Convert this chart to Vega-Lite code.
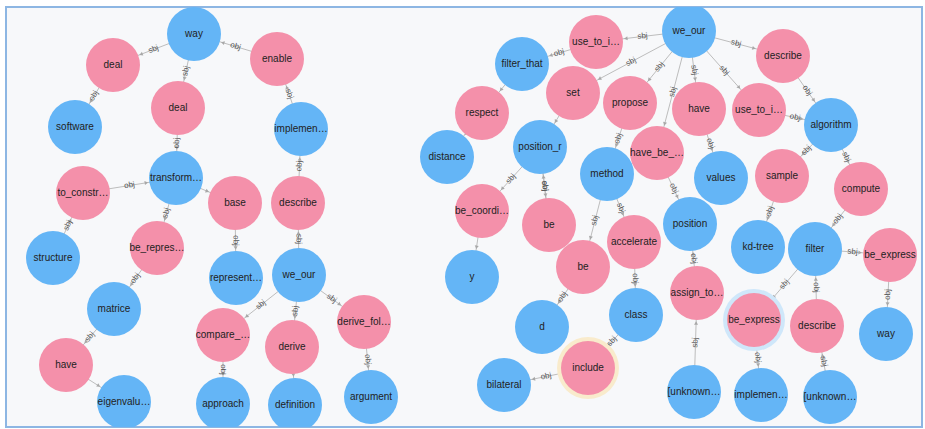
{
  "$schema": "https://vega.github.io/schema/vega-lite/v6.json",
  "width": 925,
  "height": 429,
  "autosize": {"type": "fit", "contains": "padding"},
  "padding": {"left": 6, "top": 7, "right": 3, "bottom": 2},
  "background": "white",
  "config": {"view": {"stroke": "#8db6e3", "strokeWidth": 2, "fill": "#f7f8fa"}},
  "datasets": {
    "nodes": [
      {"id": "L1", "label": "way", "type": "noun", "x": 194, "y": 34, "hl": "none"},
      {"id": "L2", "label": "deal", "type": "verb", "x": 113, "y": 65, "hl": "none"},
      {"id": "L3", "label": "enable", "type": "verb", "x": 277, "y": 59, "hl": "none"},
      {"id": "L4", "label": "software", "type": "noun", "x": 75, "y": 127, "hl": "none"},
      {"id": "L5", "label": "deal", "type": "verb", "x": 178, "y": 108, "hl": "none"},
      {"id": "L6", "label": "implemen…", "type": "noun", "x": 301, "y": 129, "hl": "none"},
      {"id": "L7", "label": "to_constr…", "type": "verb", "x": 83, "y": 193, "hl": "none"},
      {"id": "L8", "label": "transform…", "type": "noun", "x": 176, "y": 178, "hl": "none"},
      {"id": "L9", "label": "base", "type": "verb", "x": 235, "y": 203, "hl": "none"},
      {"id": "L10", "label": "describe", "type": "verb", "x": 298, "y": 203, "hl": "none"},
      {"id": "L11", "label": "structure", "type": "noun", "x": 53, "y": 258, "hl": "none"},
      {"id": "L12", "label": "be_repres…", "type": "verb", "x": 157, "y": 248, "hl": "none"},
      {"id": "L13", "label": "represent…", "type": "noun", "x": 236, "y": 278, "hl": "none"},
      {"id": "L14", "label": "we_our", "type": "noun", "x": 299, "y": 275, "hl": "none"},
      {"id": "L15", "label": "matrice", "type": "noun", "x": 114, "y": 309, "hl": "none"},
      {"id": "L16", "label": "compare_…", "type": "verb", "x": 223, "y": 335, "hl": "none"},
      {"id": "L17", "label": "derive", "type": "verb", "x": 292, "y": 347, "hl": "none"},
      {"id": "L18", "label": "derive_fol…", "type": "verb", "x": 364, "y": 322, "hl": "none"},
      {"id": "L19", "label": "have", "type": "verb", "x": 66, "y": 365, "hl": "none"},
      {"id": "L20", "label": "eigenvalu…", "type": "noun", "x": 124, "y": 402, "hl": "none"},
      {"id": "L21", "label": "approach", "type": "noun", "x": 223, "y": 404, "hl": "none"},
      {"id": "L22", "label": "definition", "type": "noun", "x": 295, "y": 405, "hl": "none"},
      {"id": "L23", "label": "argument", "type": "noun", "x": 371, "y": 397, "hl": "none"},
      {"id": "R1", "label": "we_our", "type": "noun", "x": 689, "y": 31, "hl": "none"},
      {"id": "R2", "label": "use_to_i…", "type": "verb", "x": 596, "y": 42, "hl": "none"},
      {"id": "R3", "label": "filter_that", "type": "noun", "x": 522, "y": 64, "hl": "none"},
      {"id": "R4", "label": "set", "type": "verb", "x": 573, "y": 93, "hl": "none"},
      {"id": "R5", "label": "propose", "type": "verb", "x": 630, "y": 103, "hl": "none"},
      {"id": "R6", "label": "respect", "type": "verb", "x": 482, "y": 113, "hl": "none"},
      {"id": "R7", "label": "distance", "type": "noun", "x": 447, "y": 157, "hl": "none"},
      {"id": "R8", "label": "position_r", "type": "noun", "x": 540, "y": 147, "hl": "none"},
      {"id": "R9", "label": "method", "type": "noun", "x": 607, "y": 174, "hl": "none"},
      {"id": "R10", "label": "have_be_…", "type": "verb", "x": 657, "y": 153, "hl": "none"},
      {"id": "R11", "label": "have", "type": "verb", "x": 699, "y": 109, "hl": "none"},
      {"id": "R12", "label": "use_to_i…", "type": "verb", "x": 759, "y": 110, "hl": "none"},
      {"id": "R13", "label": "describe", "type": "verb", "x": 783, "y": 56, "hl": "none"},
      {"id": "R14", "label": "algorithm", "type": "noun", "x": 831, "y": 125, "hl": "none"},
      {"id": "R15", "label": "values", "type": "noun", "x": 721, "y": 178, "hl": "none"},
      {"id": "R16", "label": "sample", "type": "verb", "x": 782, "y": 176, "hl": "none"},
      {"id": "R17", "label": "compute", "type": "verb", "x": 861, "y": 189, "hl": "none"},
      {"id": "R18", "label": "be_coordi…", "type": "verb", "x": 482, "y": 211, "hl": "none"},
      {"id": "R19", "label": "be", "type": "verb", "x": 549, "y": 225, "hl": "none"},
      {"id": "R20", "label": "accelerate", "type": "verb", "x": 634, "y": 242, "hl": "none"},
      {"id": "R21", "label": "position", "type": "noun", "x": 690, "y": 224, "hl": "none"},
      {"id": "R22", "label": "kd-tree", "type": "noun", "x": 758, "y": 247, "hl": "none"},
      {"id": "R23", "label": "filter", "type": "noun", "x": 815, "y": 249, "hl": "none"},
      {"id": "R24", "label": "be_express", "type": "verb", "x": 890, "y": 255, "hl": "none"},
      {"id": "R25", "label": "y", "type": "noun", "x": 472, "y": 277, "hl": "none"},
      {"id": "R26", "label": "be", "type": "verb", "x": 583, "y": 267, "hl": "none"},
      {"id": "R27", "label": "d", "type": "noun", "x": 542, "y": 327, "hl": "none"},
      {"id": "R28", "label": "class", "type": "noun", "x": 636, "y": 315, "hl": "none"},
      {"id": "R29", "label": "assign_to…", "type": "verb", "x": 697, "y": 293, "hl": "none"},
      {"id": "R30", "label": "be_express", "type": "verb", "x": 754, "y": 320, "hl": "selected"},
      {"id": "R31", "label": "describe", "type": "verb", "x": 817, "y": 326, "hl": "none"},
      {"id": "R32", "label": "way", "type": "noun", "x": 886, "y": 334, "hl": "none"},
      {"id": "R33", "label": "include", "type": "verb", "x": 588, "y": 368, "hl": "hover"},
      {"id": "R34", "label": "bilateral", "type": "noun", "x": 504, "y": 385, "hl": "none"},
      {"id": "R35", "label": "[unknown…", "type": "noun", "x": 694, "y": 392, "hl": "none"},
      {"id": "R36", "label": "implemen…", "type": "noun", "x": 761, "y": 395, "hl": "none"},
      {"id": "R37", "label": "[unknown…", "type": "noun", "x": 830, "y": 397, "hl": "none"}
    ],
    "edges": [
      {"s": "L1", "t": "L2", "rel": "sbj"},
      {"s": "L3", "t": "L1", "rel": "obj"},
      {"s": "L1", "t": "L5", "rel": "sbj"},
      {"s": "L2", "t": "L4", "rel": "obj"},
      {"s": "L6", "t": "L3", "rel": "sbj"},
      {"s": "L5", "t": "L8", "rel": "obj"},
      {"s": "L7", "t": "L8", "rel": "obj"},
      {"s": "L8", "t": "L9", "rel": ""},
      {"s": "L10", "t": "L6", "rel": "obj"},
      {"s": "L11", "t": "L7", "rel": "sbj"},
      {"s": "L8", "t": "L12", "rel": "sbj"},
      {"s": "L9", "t": "L13", "rel": "obj"},
      {"s": "L14", "t": "L10", "rel": "sbj"},
      {"s": "L12", "t": "L15", "rel": "obj"},
      {"s": "L14", "t": "L16", "rel": "sbj"},
      {"s": "L14", "t": "L17", "rel": "sbj"},
      {"s": "L14", "t": "L18", "rel": "sbj"},
      {"s": "L15", "t": "L19", "rel": "sbj"},
      {"s": "L19", "t": "L20", "rel": ""},
      {"s": "L16", "t": "L21", "rel": "obj"},
      {"s": "L17", "t": "L22", "rel": ""},
      {"s": "L18", "t": "L23", "rel": "obj"},
      {"s": "R1", "t": "R2", "rel": "sbj"},
      {"s": "R2", "t": "R3", "rel": "obj"},
      {"s": "R1", "t": "R4", "rel": "sbj"},
      {"s": "R1", "t": "R5", "rel": "sbj"},
      {"s": "R1", "t": "R10", "rel": "sbj"},
      {"s": "R1", "t": "R11", "rel": "sbj"},
      {"s": "R1", "t": "R12", "rel": "sbj"},
      {"s": "R1", "t": "R13", "rel": "sbj"},
      {"s": "R3", "t": "R6", "rel": ""},
      {"s": "R6", "t": "R7", "rel": ""},
      {"s": "R4", "t": "R8", "rel": ""},
      {"s": "R8", "t": "R18", "rel": "sbj"},
      {"s": "R8", "t": "R19", "rel": "sbj"},
      {"s": "R19", "t": "R8", "rel": "obj"},
      {"s": "R5", "t": "R9", "rel": "obj"},
      {"s": "R9", "t": "R26", "rel": "sbj"},
      {"s": "R9", "t": "R20", "rel": "sbj"},
      {"s": "R10", "t": "R21", "rel": "obj"},
      {"s": "R11", "t": "R15", "rel": "obj"},
      {"s": "R13", "t": "R14", "rel": "obj"},
      {"s": "R12", "t": "R14", "rel": "obj"},
      {"s": "R14", "t": "R16", "rel": "sbj"},
      {"s": "R14", "t": "R17", "rel": "sbj"},
      {"s": "R16", "t": "R22", "rel": "obj"},
      {"s": "R17", "t": "R23", "rel": "obj"},
      {"s": "R18", "t": "R25", "rel": ""},
      {"s": "R26", "t": "R27", "rel": "obj"},
      {"s": "R20", "t": "R28", "rel": "obj"},
      {"s": "R28", "t": "R33", "rel": "sbj"},
      {"s": "R33", "t": "R34", "rel": "obj"},
      {"s": "R29", "t": "R21", "rel": "obj"},
      {"s": "R35", "t": "R29", "rel": "sbj"},
      {"s": "R23", "t": "R24", "rel": "sbj"},
      {"s": "R23", "t": "R30", "rel": "sbj"},
      {"s": "R31", "t": "R23", "rel": "obj"},
      {"s": "R24", "t": "R32", "rel": "obj"},
      {"s": "R30", "t": "R36", "rel": "obj"},
      {"s": "R37", "t": "R31", "rel": "sbj"}
    ]
  },
  "encoding": {
    "x": {"type": "quantitative", "scale": {"domain": [6, 922], "nice": false, "zero": false}, "axis": null},
    "y": {"type": "quantitative", "scale": {"domain": [7, 427], "nice": false, "zero": false, "reverse": true}, "axis": null}
  },
  "layer": [
    {
      "mark": {"type": "rule", "color": "#c4c4c4", "strokeWidth": 1.5},
      "encoding": {"x": {"datum": 411.5}}
    },
    {
      "data": {"name": "edges"},
      "transform": [
        {"lookup": "s", "from": {"data": {"name": "nodes"}, "key": "id", "fields": ["x", "y"]}, "as": ["sx", "sy"]},
        {"lookup": "t", "from": {"data": {"name": "nodes"}, "key": "id", "fields": ["x", "y"]}, "as": ["tx", "ty"]}
      ],
      "mark": {"type": "rule", "color": "#bdbdbd", "strokeWidth": 1, "clip": true},
      "encoding": {
        "x": {"field": "sx"},
        "y": {"field": "sy"},
        "x2": {"field": "tx"},
        "y2": {"field": "ty"}
      }
    },
    {
      "data": {"name": "edges"},
      "transform": [
        {"lookup": "s", "from": {"data": {"name": "nodes"}, "key": "id", "fields": ["x", "y"]}, "as": ["sx", "sy"]},
        {"lookup": "t", "from": {"data": {"name": "nodes"}, "key": "id", "fields": ["x", "y"]}, "as": ["tx", "ty"]},
        {"calculate": "sqrt(pow(datum.tx-datum.sx,2)+pow(datum.ty-datum.sy,2))", "as": "len"},
        {"calculate": "datum.tx-(datum.tx-datum.sx)/datum.len*30", "as": "ax"},
        {"calculate": "datum.ty-(datum.ty-datum.sy)/datum.len*30", "as": "ay"},
        {"calculate": "atan2(datum.ty-datum.sy, datum.tx-datum.sx)*180/PI", "as": "ang"}
      ],
      "mark": {"type": "point", "shape": "triangle-right", "filled": true, "size": 16, "color": "#a8a8a8", "opacity": 1, "clip": true},
      "encoding": {
        "x": {"field": "ax"},
        "y": {"field": "ay"},
        "angle": {"field": "ang", "type": "quantitative", "scale": null}
      }
    },
    {
      "data": {"name": "edges"},
      "transform": [
        {"filter": "datum.rel != ''"},
        {"lookup": "s", "from": {"data": {"name": "nodes"}, "key": "id", "fields": ["x", "y"]}, "as": ["sx", "sy"]},
        {"lookup": "t", "from": {"data": {"name": "nodes"}, "key": "id", "fields": ["x", "y"]}, "as": ["tx", "ty"]},
        {"calculate": "(datum.sx+datum.tx)/2", "as": "mx"},
        {"calculate": "(datum.sy+datum.ty)/2", "as": "my"},
        {"calculate": "atan2(datum.ty-datum.sy, datum.tx-datum.sx)*180/PI", "as": "a0"},
        {"calculate": "datum.a0 > 90 ? datum.a0-180 : (datum.a0 < -90 ? datum.a0+180 : datum.a0)", "as": "la"}
      ],
      "mark": {"type": "text", "font": "Liberation Sans", "fontSize": 8, "color": "#555555", "baseline": "middle", "align": "center", "clip": true},
      "encoding": {
        "x": {"field": "mx"},
        "y": {"field": "my"},
        "text": {"field": "rel"},
        "angle": {"field": "la", "type": "quantitative", "scale": null}
      }
    },
    {
      "data": {"name": "nodes"},
      "transform": [{"filter": "datum.hl != 'none'"}],
      "mark": {"type": "circle", "size": 3844, "opacity": 1, "clip": true},
      "encoding": {
        "x": {"field": "x"},
        "y": {"field": "y"},
        "color": {"field": "hl", "type": "nominal", "scale": {"domain": ["selected", "hover"], "range": ["#cfe7fa", "#f9ebcc"]}, "legend": null}
      }
    },
    {
      "data": {"name": "nodes"},
      "mark": {"type": "circle", "size": 2916, "opacity": 1, "clip": true},
      "encoding": {
        "x": {"field": "x"},
        "y": {"field": "y"},
        "fill": {"field": "type", "type": "nominal", "scale": {"domain": ["noun", "verb"], "range": ["#64b5f6", "#f490aa"]}, "legend": null}
      }
    },
    {
      "data": {"name": "nodes"},
      "mark": {"type": "text", "font": "Liberation Sans", "fontSize": 10, "color": "#222222", "baseline": "middle", "align": "center", "clip": true},
      "encoding": {
        "x": {"field": "x"},
        "y": {"field": "y"},
        "text": {"field": "label"}
      }
    }
  ]
}
